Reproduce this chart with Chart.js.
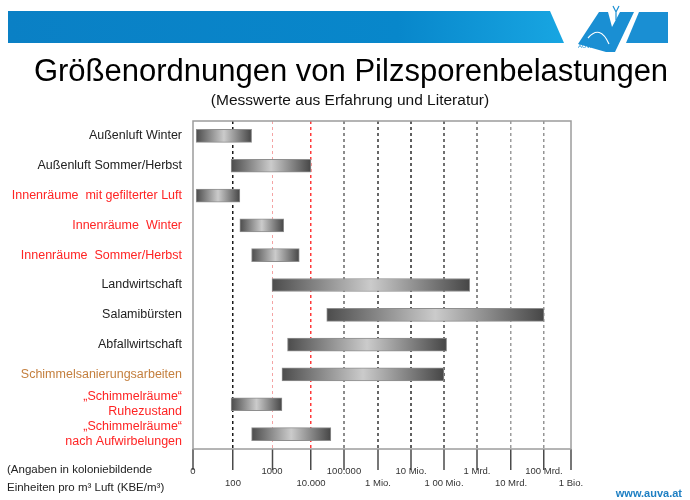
<!DOCTYPE html>
<html><head><meta charset="utf-8">
<script src="https://cdn.jsdelivr.net/npm/chart.js@4.4.1/dist/chart.umd.min.js"></script>
<style>html,body{margin:0;padding:0;background:#fff}</style>
</head><body>
<canvas id="c" width="690" height="500"></canvas>
<script>
// ---- data ----
const categories = [
  'Außenluft Winter',
  'Außenluft Sommer/Herbst',
  'Innenräume  mit gefilterter Luft',
  'Innenräume  Winter',
  'Innenräume  Sommer/Herbst',
  'Landwirtschaft',
  'Salamibürsten',
  'Abfallwirtschaft',
  'Schimmelsanierungsarbeiten',
  ['„Schimmelräume“', 'Ruhezustand'],
  ['„Schimmelräume“', 'nach Aufwirbelungen']
];
const rangeStart = [12, 90, 12, 150, 300, 1000, 30000, 2500, 1800, 90, 300];
const rangeEnd   = [300, 10000, 150, 2000, 5000, 6e8, 1e11, 1.2e8, 1e8, 1800, 40000];
const labelColors = ['#222','#222','#ff2424','#ff2424','#ff2424','#222','#222','#222','#c47f3e','#ff2424','#ff2424'];
const tickValues = [10, 100, 1e3, 1e4, 1e5, 1e6, 1e7, 1e8, 1e9, 1e10, 1e11, 1e12];
const tickLabels = ['0','100','1000','10.000','100.000','1 Mio.','10 Mio.','1 00 Mio.','1 Mrd.','10 Mrd.','100 Mrd.','1 Bio.'];

// ---- axis / style settings ----
// relative drawn width of each decade on the (hand-drawn) axis of the original
const decadeWeights = [40, 39, 39, 33, 34, 33, 33, 33, 34, 33, 27];
const gridColors = ['rgba(0,0,0,0)','#1a1a1a','#f4a4a4','#ff3a3a','#8c8c8c','#666','#5e5e5e','#707070','#8a8a8a','#9c9c9c','#959595','rgba(0,0,0,0)'];
const gridWidths = [0, 1.5, 1, 1.5, 2, 2, 2, 2, 2, 1.5, 1.5, 0];
const FONT = '"Liberation Sans", Arial, sans-serif';

const weightTotal = decadeWeights.reduce((a, b) => a + b, 0);
class DecadeLogScale extends Chart.LogarithmicScale {
  getPixelForValue(value) {
    if (value === undefined || value === 0) value = this.min;
    if (value === null || isNaN(value)) return NaN;
    const e = Math.log10(value) - Math.log10(this.min);
    let acc = 0;
    for (let i = 0; i < decadeWeights.length; i++) {
      if (e <= i + 1 || i === decadeWeights.length - 1) {
        return this.getPixelForDecimal((acc + (e - i) * decadeWeights[i]) / weightTotal);
      }
      acc += decadeWeights[i];
    }
  }
  getValueForPixel(pixel) {
    const target = this.getDecimalForPixel(pixel) * weightTotal;
    let acc = 0;
    for (let i = 0; i < decadeWeights.length; i++) {
      if (target <= acc + decadeWeights[i] || i === decadeWeights.length - 1) {
        return Math.pow(10, Math.log10(this.min) + i + (target - acc) / decadeWeights[i]);
      }
      acc += decadeWeights[i];
    }
  }
}
DecadeLogScale.id = 'decadeLog';
DecadeLogScale.defaults = Chart.LogarithmicScale.defaults;
Chart.register(DecadeLogScale);

function barFill(ctx) {
  const chart = ctx.chart;
  const xs = chart.scales && chart.scales.x;
  if (!chart.chartArea || !xs || !Array.isArray(ctx.raw)) return '#999';
  const x0 = xs.getPixelForValue(ctx.raw[0]);
  const x1 = xs.getPixelForValue(ctx.raw[1]);
  if (!isFinite(x0) || !isFinite(x1) || x1 <= x0) return '#999';
  const g = chart.ctx.createLinearGradient(x0, 0, x1, 0);
  g.addColorStop(0, '#4c4c4c');
  g.addColorStop(0.5, '#cbcbcb');
  g.addColorStop(1, '#464646');
  return g;
}

const decor = {
  id: 'decor',
  beforeDraw(chart) {
    const c = chart.ctx;
    c.save();
    c.fillStyle = '#fff';
    c.fillRect(0, 0, chart.width, chart.height);
    // header band
    const g = c.createLinearGradient(8, 0, 566, 0);
    g.addColorStop(0, '#0a80c5');
    g.addColorStop(0.7, '#0887cb');
    g.addColorStop(1, '#18a6e2');
    c.fillStyle = g;
    c.beginPath();
    c.moveTo(8, 11); c.lineTo(550, 11); c.lineTo(564, 43); c.lineTo(8, 43);
    c.closePath(); c.fill();
    // logo
    c.fillStyle = '#1a8fd3';
    c.beginPath();
    c.moveTo(578, 44); c.lineTo(599, 12); c.lineTo(608, 12); c.lineTo(612, 27);
    c.lineTo(620, 12); c.lineTo(634, 12); c.lineTo(615, 52); c.lineTo(606, 52);
    c.closePath(); c.fill();
    c.beginPath();
    c.moveTo(639, 12); c.lineTo(668, 12); c.lineTo(668, 43); c.lineTo(626, 43);
    c.closePath(); c.fill();
    c.strokeStyle = '#fff'; c.lineWidth = 1.2;
    c.beginPath();
    c.moveTo(588, 38); c.quadraticCurveTo(600, 24, 609, 44);
    c.stroke();
    c.strokeStyle = '#1a8fd3'; c.lineWidth = 1.2;
    c.beginPath();
    c.moveTo(613, 6); c.lineTo(616, 12); c.lineTo(619, 6);
    c.moveTo(616, 12); c.lineTo(616, 20);
    c.stroke();
    c.fillStyle = '#1a8fd3';
    c.font = '6px ' + FONT;
    c.textAlign = 'left'; c.textBaseline = 'top';
    c.fillText('AUVA', 578, 43);
    // title + subtitle
    c.fillStyle = '#000';
    c.textAlign = 'center'; c.textBaseline = 'alphabetic';
    c.font = '31px ' + FONT;
    c.fillText('Größenordnungen von Pilzsporenbelastungen', 351, 81);
    c.fillStyle = '#111';
    c.font = '15.5px ' + FONT;
    c.fillText('(Messwerte aus Erfahrung und Literatur)', 350, 105);
    c.restore();
  },
  afterDraw(chart) {
    const c = chart.ctx;
    const a = chart.chartArea;
    c.save();
    c.strokeStyle = '#9c9c9c';
    c.lineWidth = 1.5;
    c.strokeRect(a.left, a.top, a.right - a.left, a.bottom - a.top);
    c.fillStyle = '#222';
    c.font = '11.5px ' + FONT;
    c.textAlign = 'left'; c.textBaseline = 'middle';
    c.fillText('(Angaben in koloniebildende', 7, 470);
    c.fillText('Einheiten pro m³ Luft (KBE/m³)', 7, 488);
    c.fillStyle = '#1d7fc3';
    c.font = 'bold 11px ' + FONT;
    c.textAlign = 'right';
    c.fillText('www.auva.at', 682, 494);
    c.restore();
  }
};

new Chart(document.getElementById('c'), {
  type: 'bar',
  data: {
    labels: categories,
    datasets: [{
      data: categories.map((_, i) => [rangeStart[i], rangeEnd[i]]),
      backgroundColor: barFill,
      borderColor: '#8e8e8e',
      borderWidth: 1,
      borderSkipped: false,
      barThickness: 13
    }]
  },
  options: {
    indexAxis: 'y',
    responsive: false,
    animation: false,
    layout: { padding: { top: 121, right: 119, bottom: 11, left: 0 } },
    plugins: {
      legend: { display: false },
      tooltip: { enabled: false },
      title: { display: false },
      subtitle: { display: false }
    },
    scales: {
      x: {
        type: 'decadeLog',
        min: 10,
        max: 1e12,
        position: 'bottom',
        z: 1,
        afterBuildTicks: s => { s.ticks = tickValues.map(v => ({ value: v })); },
        afterFit: s => { s.height = 40; },
        border: { display: false, dash: [3, 3] },
        grid: {
          color: c => gridColors[c.index],
          lineWidth: c => gridWidths[c.index],
          tickColor: '#4a4a4a',
          tickWidth: 1.5,
          tickLength: 21,
          tickBorderDash: []
        },
        ticks: {
          autoSkip: false,
          maxRotation: 0,
          minRotation: 0,
          padding: -4,
          color: '#333',
          font: { family: FONT, size: 9.5 },
          callback: (v, i) => (i % 2 === 0 ? [tickLabels[i]] : ['', tickLabels[i]])
        }
      },
      y: {
        type: 'category',
        grid: { display: false, drawTicks: false },
        border: { display: false },
        afterFit: s => { s.width = 193; },
        ticks: {
          autoSkip: false,
          padding: 11,
          color: c => labelColors[c.index],
          font: { family: FONT, size: 12.5 }
        }
      }
    }
  },
  plugins: [decor]
});
</script>
</body></html>
